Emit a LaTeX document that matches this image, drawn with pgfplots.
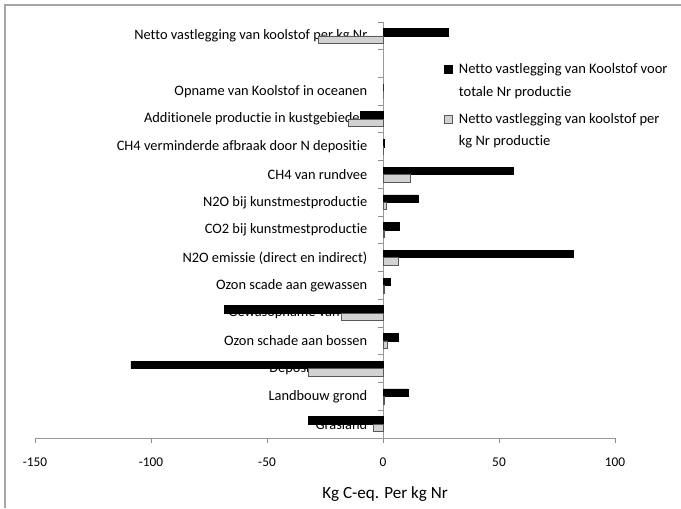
\documentclass[border=0pt]{standalone}
\usepackage{fontspec}
\setmainfont{Carlito}[Ligatures=NoCommon]
\usepackage{pgfplots}
\usepackage{pgfplotstable}
\pgfplotsset{compat=1.18}
\pgfplotstableread{
y black gray
0 -32 -4
1 10.8 0.7
2 -108.7 -32
3 6.5 2
4 -68.5 -18
5 3.2 0.7
6 82.2 6.4
7 7.2 0.7
8 15 1.5
9 56.3 11.8
10 0.6 0.3
11 -9.8 -14.8
12 0 0
14 28 -28
}\datatable
\begin{document}
\begin{tikzpicture}
\path[use as bounding box] (-26.25pt,-52.5pt) rectangle (484.5pt,328.5pt);
\draw[gray!70, line width=0.8pt] (-22.5pt,-52.5pt) -- (-22.5pt,324.75pt) -- (484.5pt,324.75pt);
\begin{axis}[
  scale only axis, width=435pt, height=312pt,
  at={(0pt,0pt)}, anchor=south west,
  xmin=-150, xmax=100, ymin=-0.5, ymax=14.5,
  axis x line=bottom, axis y line=middle,
  hide obscured x ticks=false, hide obscured y ticks=false,
  axis line style={draw=gray!80, -, line width=0.6pt},
  tick align=outside,
  tick style={draw=gray!90, line width=0.75pt},
  xbar, bar width=5.6pt,
  xtick={-150,-100,-50,0,50,100},
  xticklabels={-150,-100,-50,0,50,100},
  major tick length=3.6pt,
  xticklabel style={font=\fontsize{10}{12}\selectfont, yshift=-8pt},
  ytick={-0.5,0.5,1.5,2.5,3.5,4.5,5.5,6.5,7.5,8.5,9.5,10.5,11.5,12.5,13.5,14.5},
  yticklabels={Grasland, Landbouw grond, Depositie op bos, Ozon schade aan bossen, Gewasopname van CO2, Ozon scade aan gewassen, N2O emissie (direct en indirect), CO2 bij kunstmestproductie, N2O bij kunstmestproductie, CH4 van rundvee, CH4 verminderde afbraak door N depositie, Additionele productie in kustgebieden, Opname van Koolstof in oceanen, {}, Netto vastlegging van koolstof per kg Nr, {}},
  yticklabel style={anchor=east, inner sep=0pt, xshift=-8pt, yshift=10.4pt, font=\fontsize{10.8}{12}\selectfont},
  xlabel={Kg C-eq. Per kg Nr},
  xlabel style={font=\fontsize{12.8}{14}\selectfont, yshift=-8pt, xshift=45pt},
  legend style={at={(0.697,0.913)}, anchor=north west, draw=none, fill=none,
    font=\fontsize{10.9}{17}\selectfont, cells={anchor=west, align=left}, row sep=7pt, column sep=3pt},
  legend image code/.code={\draw[#1] (0pt,5.6pt) rectangle (6pt,11.6pt);},
]
\addplot[fill=black, draw=black, line width=0.4pt, bar shift=2.8pt] table[x=black, y=y]{\datatable};
\addlegendentry{Netto vastlegging van Koolstof voor\\totale Nr productie}
\addplot[fill=gray!35, draw=black!65, line width=0.5pt, bar shift=-2.8pt] table[x=gray, y=y]{\datatable};
\addlegendentry{Netto vastlegging van koolstof per\\kg Nr productie}
\end{axis}
\end{tikzpicture}
\end{document}
